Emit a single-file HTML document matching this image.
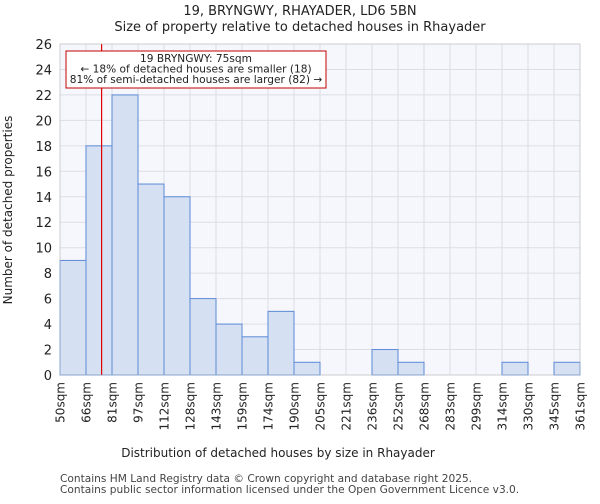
<!DOCTYPE html>
<html><head><meta charset="utf-8"><style>
body{margin:0;background:#fff;font-family:"DejaVu Sans","Liberation Sans",sans-serif}
</style></head><body>
<svg id="c" width="600" height="500" xmlns="http://www.w3.org/2000/svg" font-family="DejaVu Sans, Liberation Sans, sans-serif">
<text x="300" y="15" text-anchor="middle" font-size="13" fill="#222">19, BRYNGWY, RHAYADER, LD6 5BN</text>
<text x="300" y="31" text-anchor="middle" font-size="13" fill="#222">Size of property relative to detached houses in Rhayader</text>
<rect x="60" y="44" width="520" height="331" fill="#f6f7fc"/>
<g id="grid"></g><g id="bars"></g><g id="axes"></g>
<text x="278" y="457" text-anchor="middle" font-size="12" fill="#222">Distribution of detached houses by size in Rhayader</text>
<text transform="translate(12,210) rotate(-90)" text-anchor="middle" font-size="12" fill="#222">Number of detached properties</text>
<text x="60" y="482" font-size="10.6" fill="#444">Contains HM Land Registry data © Crown copyright and database right 2025.</text>
<text x="60" y="493" font-size="10.6" fill="#444">Contains public sector information licensed under the Open Government Licence v3.0.</text>
</svg>
<script>
const categories=["50sqm","66sqm","81sqm","97sqm","112sqm","128sqm","143sqm","159sqm","174sqm","190sqm","205sqm","221sqm","236sqm","252sqm","268sqm","283sqm","299sqm","314sqm","330sqm","345sqm","361sqm"];
const counts=[9,18,22,15,14,6,4,3,5,1,0,0,2,1,0,0,0,1,0,1];
const yTicks=[0,2,4,6,8,10,12,14,16,18,20,22,24,26];
const markerValue=75;
const binEdges=[50,66,81,97,112,128,143,159,174,190,205,221,236,252,268,283,299,314,330,345,361];
const NS="http://www.w3.org/2000/svg";
const X0=60,X1=580,Y0=375,Y1=44,YMAX=26;
const bw=(X1-X0)/counts.length;
const xs=i=>X0+i*bw;
const ys=v=>Y0-(v/YMAX)*(Y0-Y1);
function mk(t,a,p){const e=document.createElementNS(NS,t);for(const k in a)e.setAttribute(k,a[k]);p.appendChild(e);return e;}
const grid=document.getElementById('grid'),bars=document.getElementById('bars'),axes=document.getElementById('axes');
yTicks.forEach(v=>{
 const l=mk('line',{x1:X0,x2:X1,y1:ys(v),y2:ys(v),stroke:'#dcdee4','stroke-width':1},grid);
 
 
 const t=mk('text',{x:X0-8,y:ys(v)+5,'text-anchor':'end','font-size':13,fill:'#222'},axes);
 t.textContent=v;
 
 
});
categories.forEach((c,i)=>{
 const l=mk('line',{x1:xs(i),x2:xs(i),y1:Y1,y2:Y0,stroke:'#dcdee4','stroke-width':1},grid);
 
 
 const t=mk('text',{transform:`translate(${xs(i)+4.5},${Y0+7}) rotate(-90)`,'text-anchor':'end','font-size':12,fill:'#222'},axes);
 t.textContent=c;
 
 
});
counts.forEach((v,i)=>{
 if(v<=0)return;
 const r=mk('rect',{x:xs(i),y:ys(v),width:bw,height:Y0-ys(v),fill:'#d6e0f3',stroke:'#5b8ad6','stroke-width':1},bars);
 
 
});
let bi=0;while(bi<binEdges.length-2&&markerValue>binEdges[bi+1])bi++;
const mx=xs(bi)+bw*(markerValue-binEdges[bi])/(binEdges[bi+1]-binEdges[bi]);
const ml=mk('line',{x1:mx,x2:mx,y1:Y1,y2:Y0,stroke:'#e00000','stroke-width':1.2},axes);


const box=mk('rect',{x:66,y:51,width:260,height:37,fill:'#fff',stroke:'#c00000','stroke-width':1},axes);


["19 BRYNGWY: 75sqm","← 18% of detached houses are smaller (18)","81% of semi-detached houses are larger (82) →"].forEach((s,k)=>{
 const t=mk('text',{x:196,y:62+k*10.5,'text-anchor':'middle','font-size':10.6,fill:'#222'},axes);
 t.textContent=s;
 
 
});
const fr=mk('rect',{x:X0,y:Y1,width:X1-X0,height:Y0-Y1,fill:'none',stroke:'#bbb','stroke-width':0.5},axes);


</script>
</body></html>
